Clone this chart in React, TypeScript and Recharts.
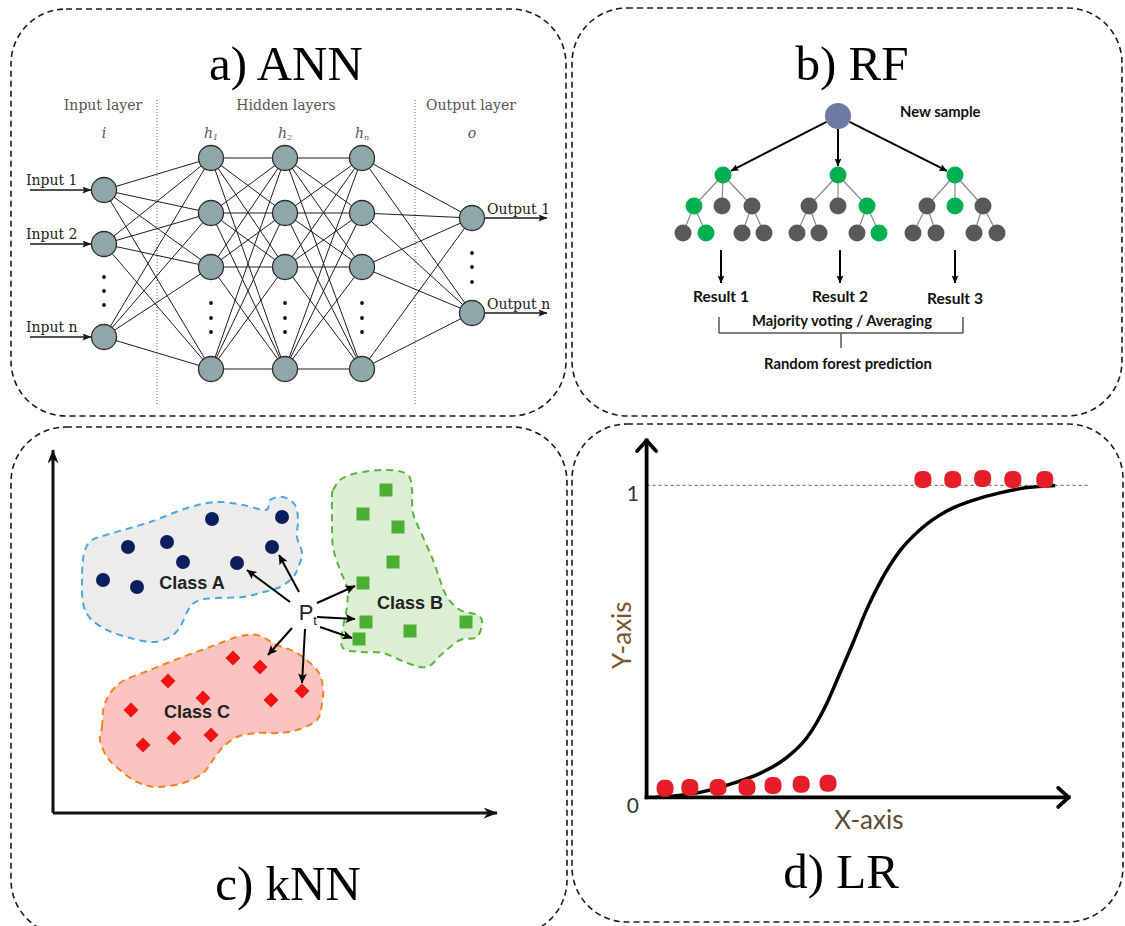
import React from 'react';
import { ComposedChart, Scatter, Line, XAxis, YAxis } from 'recharts';

// ================= a) ANN  (diagram units) =================
const annLayerX = [104, 211, 285, 362, 472]; // input, h1, h2, hn, output
const annLayerNodesY = [
  [190, 244, 337],
  [158, 213, 267, 369],
  [158, 213, 267, 369],
  [158, 213, 267, 369],
  [218, 313],
];
const annEllipsisY = [
  [277, 291, 305],
  [303, 318, 332],
  [303, 318, 332],
  [303, 318, 332],
  [253, 267, 282],
];
const annLayerTitles = [
  { x: 103, y: 105, t: 'Input layer' },
  { x: 286, y: 105, t: 'Hidden layers' },
  { x: 471, y: 105, t: 'Output layer' },
];
const annSymbols = [
  { x: 104, y: 133, t: 'i', sub: '' },
  { x: 211, y: 133, t: 'h', sub: '1' },
  { x: 285, y: 133, t: 'h', sub: '2' },
  { x: 362, y: 133, t: 'h', sub: 'n' },
  { x: 472, y: 133, t: 'o', sub: '' },
];
const annInputNames = ['Input 1', 'Input 2', 'Input n'];
const annOutputNames = ['Output 1', 'Output n'];
const annSeparatorX = [157, 415];
const annSeparatorSpan = [100, 405];
const annInputArrowX = [30, 91];
const annOutputArrowX = [485, 547];

// ================= b) RF =================
const rfRoot = { x: 838, y: 116 };
const rfLevel1 = [
  { x: 723, y: 175, on: true },
  { x: 838, y: 175, on: true },
  { x: 955, y: 175, on: true },
];
const rfLevel2X = [694, 722, 752, 809, 838, 867, 927, 955, 983];
const rfLevel2On = [true, false, false, false, false, true, false, true, false];
const rfLevel3X = [683, 706, 742, 764, 797, 819, 857, 879, 913, 936, 974, 997];
const rfLevel3On = [false, true, false, false, false, false, false, true, false, false, false, false];
const rfLevel2Y = 206;
const rfLevel3Y = 233;
const rfResultX = [721, 840, 955];
const rfResultLabels = ['Result 1', 'Result 2', 'Result 3'];
const rfResultLabelY = [296, 296, 298];
const rfResultArrowY = [250, 283];
const rfBracket = { left: 719, right: 963, top: 317, bottom: 333, stemX: 841, stemBottom: 348 };
const rfTexts = [
  { x: 842, y: 320, t: 'Majority voting / Averaging' },
  { x: 848, y: 363, t: 'Random forest prediction' },
];
const rfNewSample = [{ x: 900, y: 111, t: 'New sample' }];

// ================= c) kNN =================
const knnOrigin = { x: 53, y: 813 };
const knnAxisEnd = { x: 497, y: 450 };
const knnClassA = [
  { x: 103, y: 580 }, { x: 137, y: 587 }, { x: 128, y: 547 }, { x: 167, y: 542 }, { x: 183, y: 562 },
  { x: 212, y: 519 }, { x: 237, y: 563 }, { x: 272, y: 547 }, { x: 282, y: 517 },
];
const knnClassB = [
  { x: 386, y: 490 }, { x: 363, y: 514 }, { x: 398, y: 527 }, { x: 393, y: 562 }, { x: 363, y: 583 },
  { x: 366, y: 622 }, { x: 410, y: 631 }, { x: 466, y: 622 }, { x: 359, y: 639 },
];
const knnClassC = [
  { x: 233, y: 658 }, { x: 260, y: 667 }, { x: 168, y: 681 }, { x: 203, y: 698 }, { x: 131, y: 710 },
  { x: 271, y: 700 }, { x: 302, y: 691 }, { x: 143, y: 745 }, { x: 174, y: 738 }, { x: 211, y: 735 },
];
const knnBlobA = [
  [85, 550], [92, 540], [113, 533], [150, 522], [187, 508], [217, 502], [243, 505], [266, 510], [270, 500],
  [283, 497], [295, 505], [298, 520], [297, 537], [302, 553], [298, 568], [293, 577], [280, 587], [260, 593],
  [243, 597], [217, 598], [200, 600], [190, 607], [180, 627], [170, 637], [153, 642], [130, 638], [107, 630],
  [90, 618], [83, 603], [82, 580], [83, 560],
].map(([x, y]) => ({ x, y }));
const knnBlobB = [
  [333, 490], [343, 478], [363, 472], [390, 470], [408, 475], [412, 490], [413, 513], [423, 537], [433, 560],
  [440, 580], [447, 597], [460, 610], [477, 615], [482, 622], [477, 637], [460, 640], [443, 653], [427, 667],
  [407, 663], [383, 653], [360, 652], [343, 648], [342, 633], [347, 607], [347, 587], [340, 570], [333, 547],
  [332, 520], [332, 500],
].map(([x, y]) => ({ x, y }));
const knnBlobC = [
  [102, 727], [105, 703], [120, 683], [150, 670], [180, 658], [210, 647], [237, 637], [257, 635], [277, 645],
  [297, 653], [317, 670], [323, 687], [322, 703], [317, 720], [297, 730], [277, 733], [257, 733], [237, 737],
  [223, 747], [213, 760], [203, 773], [183, 783], [157, 787], [137, 782], [120, 770], [107, 757], [100, 740],
].map(([x, y]) => ({ x, y }));
const knnQueryArrows = [
  [290, 602, 247, 570], [299, 592, 279, 555],
  [317, 603, 355, 586], [317, 617, 355, 619], [320, 627, 352, 638],
  [292, 628, 268, 655], [305, 629, 302, 683],
];
const knnClassLabels = [
  { x: 192, y: 583, t: 'Class A' },
  { x: 410, y: 603, t: 'Class B' },
  { x: 197, y: 712, t: 'Class C' },
];
const knnQueryLabel = [{ x: 306, y: 612, t: 'P' }];
const knnQuerySub = [{ x: 315, y: 620, t: 't' }];

// ================= d) LR (value space) =================
const lrCurve = [
  { x: 0.2, y: 0.0 }, { x: 1.27, y: 0.016 }, { x: 2.05, y: 0.045 }, { x: 2.7, y: 0.077 },
  { x: 3.34, y: 0.128 }, { x: 3.82, y: 0.192 }, { x: 4.29, y: 0.301 }, { x: 4.6, y: 0.397 },
  { x: 4.91, y: 0.494 }, { x: 5.25, y: 0.605 }, { x: 5.56, y: 0.69 }, { x: 6.03, y: 0.79 },
  { x: 6.51, y: 0.858 }, { x: 7.15, y: 0.918 }, { x: 7.77, y: 0.952 }, { x: 8.41, y: 0.976 },
  { x: 9.06, y: 0.993 }, { x: 9.73, y: 1.0 },
];
const lrClass0 = [
  { x: 0.44, y: 0.029 }, { x: 1.03, y: 0.032 }, { x: 1.7, y: 0.032 }, { x: 2.39, y: 0.032 },
  { x: 3.01, y: 0.038 }, { x: 3.68, y: 0.042 }, { x: 4.32, y: 0.045 },
];
const lrClass1 = [
  { x: 6.58, y: 1.019 }, { x: 7.29, y: 1.019 }, { x: 8.0, y: 1.022 }, { x: 8.72, y: 1.019 }, { x: 9.48, y: 1.019 },
];
const lrTickLabels = [{ x: -0.33, y: 0, t: '0' }, { x: -0.33, y: 1, t: '1' }];
const lrXLabel = [{ x: 5.29, y: -0.07, t: 'X-axis' }];
const lrYLabel = [{ x: -0.6, y: 0.52, t: 'Y-axis' }];
const lrXDomain = [-1.8, 11.3];
const lrYDomain = [-0.4, 1.2];
const lrXEnd = 10.05;
const lrYEnd = 1.144;
const lrRefEnd = 10.53;

// ================= titles =================
const panelTitles = [
  { x: 286, y: 80, t: 'a) ANN' },
  { x: 852, y: 80, t: 'b) RF' },
  { x: 288, y: 900, t: 'c) kNN' },
  { x: 841, y: 888, t: 'd) LR' },
];

// ================= helpers =================
type P = { x: number; y: number };
const hidden = () => <g />;

function closedSmoothPath(pts: P[]) {
  const n = pts.length;
  let d = `M${pts[0].x},${pts[0].y}`;
  for (let i = 0; i < n; i++) {
    const p0 = pts[(i - 1 + n) % n], p1 = pts[i], p2 = pts[(i + 1) % n], p3 = pts[(i + 2) % n];
    const c1x = p1.x + (p2.x - p0.x) / 6, c1y = p1.y + (p2.y - p0.y) / 6;
    const c2x = p2.x - (p3.x - p1.x) / 6, c2y = p2.y - (p3.y - p1.y) / 6;
    d += ` C${c1x},${c1y} ${c2x},${c2y} ${p2.x},${p2.y}`;
  }
  return d + ' Z';
}

function segs(key: string, pairs: [P, P][], style: any) {
  const data = pairs.flatMap(([a, b]) => [a, b]);
  return (
    <Scatter
      key={key}
      data={data}
      shape={hidden}
      isAnimationActive={false}
      line={(p: any) => {
        const pts = p.points || [];
        const els: any[] = [];
        for (let i = 0; i + 1 < pts.length; i += 2) {
          els.push(<line key={i} x1={pts[i].x} y1={pts[i].y} x2={pts[i + 1].x} y2={pts[i + 1].y} {...style} />);
        }
        return <g>{els}</g>;
      }}
    />
  );
}

function texts(key: string, items: any[], style: any) {
  return (
    <Scatter
      key={key}
      data={items}
      isAnimationActive={false}
      shape={(p: any) => (
        <text x={p.cx} y={p.cy} dominantBaseline="central" {...style}>
          {p.payload.t}
        </text>
      )}
    />
  );
}

function blob(key: string, outline: P[], fill: string, stroke: string) {
  return (
    <Scatter
      key={key}
      data={outline}
      shape={hidden}
      isAnimationActive={false}
      line={(p: any) => (
        <path d={closedSmoothPath(p.points)} fill={fill} stroke={stroke} strokeWidth={2} strokeDasharray="7 5" />
      )}
    />
  );
}

// ---- derived ANN structures ----
const annNodes = annLayerX.flatMap((x, l) => annLayerNodesY[l].map((y) => ({ x, y })));
const annEdges: [P, P][] = [];
for (let l = 0; l < annLayerX.length - 1; l++) {
  for (const ya of annLayerNodesY[l]) {
    for (const yb of annLayerNodesY[l + 1]) {
      annEdges.push([{ x: annLayerX[l], y: ya }, { x: annLayerX[l + 1], y: yb }]);
    }
  }
}
const annDots = annLayerX.flatMap((x, l) => annEllipsisY[l].map((y) => ({ x, y })));
const annSeparators: [P, P][] = annSeparatorX.map((x) => [{ x, y: annSeparatorSpan[0] }, { x, y: annSeparatorSpan[1] }]);
const annInArrows: [P, P][] = annLayerNodesY[0].map((y) => [{ x: annInputArrowX[0], y }, { x: annInputArrowX[1], y }]);
const annOutArrows: [P, P][] = annLayerNodesY[4].map((y) => [{ x: annOutputArrowX[0], y }, { x: annOutputArrowX[1], y }]);
const annInLabels = annInputNames.map((t, i) => ({ x: 26, y: annLayerNodesY[0][i] - 10, t }));
const annOutLabels = annOutputNames.map((t, i) => ({ x: 487, y: annLayerNodesY[4][i] - 9, t }));

// ---- derived RF structures ----
const rfL2 = rfLevel2X.map((x, i) => ({ x, y: rfLevel2Y, on: rfLevel2On[i] }));
const rfL3 = rfLevel3X.map((x, i) => ({ x, y: rfLevel3Y, on: rfLevel3On[i] }));
const rfTreeEdges: [P, P][] = [];
rfLevel1.forEach((n, t) => {
  for (let k = 0; k < 3; k++) rfTreeEdges.push([n, rfL2[3 * t + k]]);
  rfTreeEdges.push([rfL2[3 * t], rfL3[4 * t]]);
  rfTreeEdges.push([rfL2[3 * t], rfL3[4 * t + 1]]);
  rfTreeEdges.push([rfL2[3 * t + 2], rfL3[4 * t + 2]]);
  rfTreeEdges.push([rfL2[3 * t + 2], rfL3[4 * t + 3]]);
});
const RF_ROOT_R = 13;
const RF_NODE_R = 8.5;
const rfRootArrows: [P, P][] = rfLevel1.map((n) => {
  const dx = n.x - rfRoot.x, dy = n.y - rfRoot.y;
  const len = Math.hypot(dx, dy);
  const ux = dx / len, uy = dy / len;
  return [
    { x: rfRoot.x + ux * RF_ROOT_R, y: rfRoot.y + uy * RF_ROOT_R },
    { x: n.x - ux * (RF_NODE_R + 0.5), y: n.y - uy * (RF_NODE_R + 0.5) },
  ];
});
const rfResultArrows: [P, P][] = rfResultX.map((x) => [{ x, y: rfResultArrowY[0] }, { x, y: rfResultArrowY[1] }]);
const rfResultTexts = rfResultX.map((x, i) => ({ x, y: rfResultLabelY[i], t: rfResultLabels[i] }));
const b = rfBracket;
const rfBracketSegs: [P, P][] = [
  [{ x: b.left, y: b.top }, { x: b.left, y: b.bottom }],
  [{ x: b.left, y: b.bottom }, { x: b.right, y: b.bottom }],
  [{ x: b.right, y: b.bottom }, { x: b.right, y: b.top }],
  [{ x: b.stemX, y: b.bottom }, { x: b.stemX, y: b.stemBottom }],
];

// ---- derived kNN ----
const knnAxes: [P, P][] = [
  [knnOrigin, { x: knnOrigin.x, y: knnAxisEnd.y }],
  [knnOrigin, { x: knnAxisEnd.x, y: knnOrigin.y }],
];
const knnArrows: [P, P][] = knnQueryArrows.map(([x1, y1, x2, y2]) => [{ x: x1, y: y1 }, { x: x2, y: y2 }]);

// ---- derived LR ----
const lrAxes: [P, P][] = [
  [{ x: 0, y: 0 }, { x: 0, y: lrYEnd }],
  [{ x: 0, y: 0 }, { x: lrXEnd, y: 0 }],
];
const lrRefLine: [P, P][] = [[{ x: 0, y: 1 }, { x: lrRefEnd, y: 1 }]];

// ================= styles =================
const SERIF = "'DejaVu Serif', serif";
const TITLE_FONT = "'Liberation Serif', 'Times New Roman', serif";
const CAL = "Lato, 'Open Sans', sans-serif";
const HELV = "'Liberation Sans', Arial, sans-serif";

const ANN_NODE = { fill: '#8fa7a9', stroke: '#2e2e2e', strokeWidth: 1.3 };
const RF_GREEN = '#00b050';
const RF_GRAY = '#595959';

// LR chart geometry (pixel placement of the plot)
const LR_PX_PER_X = 42;
const LR_PX_PER_Y = 312;
const LR_ORIGIN_PX = { x: 646.7, y: 797 };

export default function App() {
  const lrLeft = LR_ORIGIN_PX.x + lrXDomain[0] * LR_PX_PER_X;
  const lrTop = LR_ORIGIN_PX.y - lrYDomain[1] * LR_PX_PER_Y;
  const lrW = (lrXDomain[1] - lrXDomain[0]) * LR_PX_PER_X;
  const lrH = (lrYDomain[1] - lrYDomain[0]) * LR_PX_PER_Y;

  return (
    <div style={{ position: 'absolute', left: 0, top: 0, width: 1125, height: 926, background: '#fff', overflow: 'hidden' }}>
      <svg width={1125} height={926} style={{ position: 'absolute', left: 0, top: 0 }}>
        <defs>
          <marker id="annHead" viewBox="0 0 10 10" refX="9.5" refY="5" markerWidth="9" markerHeight="7" markerUnits="userSpaceOnUse" orient="auto" preserveAspectRatio="none">
            <path d="M0,0 L10,5 L0,10 L2,5 Z" fill="#1a1a1a" />
          </marker>
          <marker id="rfHead" viewBox="0 0 10 10" refX="9.5" refY="5" markerWidth="8" markerHeight="7" markerUnits="userSpaceOnUse" orient="auto" preserveAspectRatio="none">
            <path d="M0,0 L10,5 L0,10 L2,5 Z" fill="#000" />
          </marker>
          <marker id="knnHead" viewBox="0 0 10 10" refX="9.5" refY="5" markerWidth="10" markerHeight="9" markerUnits="userSpaceOnUse" orient="auto" preserveAspectRatio="none">
            <path d="M0,0 L10,5 L0,10 L2.5,5 Z" fill="#000" />
          </marker>
          <marker id="knnAxisHead" viewBox="0 0 10 10" refX="9.5" refY="5" markerWidth="14" markerHeight="11" markerUnits="userSpaceOnUse" orient="auto" preserveAspectRatio="none">
            <path d="M0,0 L10,5 L0,10 L3,5 Z" fill="#111" />
          </marker>
          <marker id="chev" viewBox="0 0 14 22" refX="12" refY="11" markerWidth="14" markerHeight="22" markerUnits="userSpaceOnUse" orient="auto" overflow="visible">
            <path d="M1.5,1.5 L12,11 L1.5,20.5" fill="none" stroke="#000" strokeWidth="3.8" strokeLinecap="round" strokeLinejoin="round" />
          </marker>
        </defs>
        <g fill="none" stroke="#1c1c1c" strokeWidth={1.6} strokeDasharray="6 4">
          <rect x={11} y={9} width={555} height={407} rx={55} ry={55} />
          <rect x={572} y={8} width={550} height={408} rx={55} ry={55} />
          <rect x={11} y={427} width={556} height={508} rx={55} ry={55} />
          <rect x={572} y={424} width={551} height={498} rx={55} ry={55} />
        </g>
        {panelTitles.map((p) => (
          <text key={p.t} x={p.x} y={p.y} textAnchor="middle" fontFamily={TITLE_FONT} fontSize={49} fill="#000">
            {p.t}
          </text>
        ))}
      </svg>

      {/* ===== diagram chart for panels a, b, c ===== */}
      <div style={{ position: 'absolute', left: 0, top: 0 }}>
        <ComposedChart width={1125} height={926} margin={{ top: 0, right: 0, bottom: 0, left: 0 }}>
          <XAxis type="number" dataKey="x" domain={[0, 1125]} hide allowDataOverflow />
          <YAxis type="number" dataKey="y" domain={[0, 926]} hide reversed allowDataOverflow />

          {/* ---- a) ANN ---- */}
          {segs('annSep', annSeparators, { stroke: '#666', strokeWidth: 1, strokeDasharray: '1 2' })}
          {segs('annEdges', annEdges, { stroke: '#1e1e1e', strokeWidth: 1 })}
          {segs('annIn', annInArrows, { stroke: '#1a1a1a', strokeWidth: 1.4, markerEnd: 'url(#annHead)' })}
          {segs('annOut', annOutArrows, { stroke: '#1a1a1a', strokeWidth: 1.4, markerEnd: 'url(#annHead)' })}
          <Scatter
            data={annNodes}
            isAnimationActive={false}
            shape={(p: any) => <circle cx={p.cx} cy={p.cy} r={12.5} {...ANN_NODE} />}
          />
          <Scatter
            data={annDots}
            isAnimationActive={false}
            shape={(p: any) => <circle cx={p.cx} cy={p.cy} r={1.9} fill="#111" />}
          />
          {texts('annTitles', annLayerTitles, { textAnchor: 'middle', fontFamily: SERIF, fontSize: 14, fill: '#555' })}
          <Scatter
            data={annSymbols}
            isAnimationActive={false}
            shape={(p: any) => (
              <text x={p.cx} y={p.cy} dominantBaseline="central" textAnchor="middle" fontFamily={SERIF} fontStyle="italic" fontSize={14} fill="#555">
                {p.payload.t}
                {p.payload.sub ? (
                  <tspan fontSize={8} dy={4}>
                    {p.payload.sub}
                  </tspan>
                ) : null}
              </text>
            )}
          />
          {texts('annInLbl', annInLabels, { textAnchor: 'start', fontFamily: SERIF, fontSize: 14, fill: '#222' })}
          {texts('annOutLbl', annOutLabels, { textAnchor: 'start', fontFamily: SERIF, fontSize: 14, fill: '#222' })}

          {/* ---- b) RF ---- */}
          {segs('rfTree', rfTreeEdges, { stroke: '#8a8a8a', strokeWidth: 1.2 })}
          {segs('rfRootArr', rfRootArrows, { stroke: '#000', strokeWidth: 2, markerEnd: 'url(#rfHead)' })}
          {segs('rfResArr', rfResultArrows, { stroke: '#000', strokeWidth: 2, markerEnd: 'url(#rfHead)' })}
          {segs('rfBracket', rfBracketSegs, { stroke: '#555', strokeWidth: 1.5 })}
          <Scatter
            data={[rfRoot]}
            isAnimationActive={false}
            shape={(p: any) => <circle cx={p.cx} cy={p.cy} r={RF_ROOT_R} fill="#6e7aa3" />}
          />
          <Scatter
            data={[...rfLevel1, ...rfL2, ...rfL3]}
            isAnimationActive={false}
            shape={(p: any) => <circle cx={p.cx} cy={p.cy} r={RF_NODE_R} fill={p.payload.on ? RF_GREEN : RF_GRAY} />}
          />
          {texts('rfNew', rfNewSample, { textAnchor: 'start', fontFamily: CAL, fontWeight: 700, fontSize: 14.8, fill: '#111' })}
          {texts('rfRes', rfResultTexts, { textAnchor: 'middle', fontFamily: CAL, fontWeight: 700, fontSize: 15.6, fill: '#111' })}
          {texts('rfTxt', rfTexts, { textAnchor: 'middle', fontFamily: CAL, fontWeight: 700, fontSize: 14.8, fill: '#111' })}

          {/* ---- c) kNN ---- */}
          {blob('blobA', knnBlobA, '#ececec', '#4ea6e0')}
          {blob('blobB', knnBlobB, '#dcefd4', '#5cb43e')}
          {blob('blobC', knnBlobC, '#fcc4c0', '#f5821f')}
          {segs('knnAxes', knnAxes, { stroke: '#111', strokeWidth: 3, markerEnd: 'url(#knnAxisHead)' })}
          <Scatter
            data={knnClassA}
            isAnimationActive={false}
            shape={(p: any) => <circle cx={p.cx} cy={p.cy} r={7} fill="#0b1f5e" />}
          />
          <Scatter
            data={knnClassB}
            isAnimationActive={false}
            shape={(p: any) => <rect x={p.cx - 6.5} y={p.cy - 6.5} width={13} height={13} fill="#4dae36" />}
          />
          <Scatter
            data={knnClassC}
            isAnimationActive={false}
            shape={(p: any) => (
              <path d={`M${p.cx},${p.cy - 7.5} L${p.cx + 7.5},${p.cy} L${p.cx},${p.cy + 7.5} L${p.cx - 7.5},${p.cy} Z`} fill="#f21212" />
            )}
          />
          {segs('knnArr', knnArrows, { stroke: '#000', strokeWidth: 2, markerEnd: 'url(#knnHead)' })}
          {texts('knnCls', knnClassLabels, { textAnchor: 'middle', fontFamily: HELV, fontWeight: 700, fontSize: 18, fill: '#222' })}
          {texts('knnP', knnQueryLabel, { textAnchor: 'middle', fontFamily: HELV, fontSize: 22, fill: '#222' })}
          {texts('knnPt', knnQuerySub, { textAnchor: 'middle', fontFamily: HELV, fontSize: 13, fill: '#222' })}
        </ComposedChart>
      </div>

      {/* ===== d) LR chart ===== */}
      <div style={{ position: 'absolute', left: lrLeft, top: lrTop }}>
        <ComposedChart width={lrW} height={lrH} margin={{ top: 0, right: 0, bottom: 0, left: 0 }}>
          <XAxis type="number" dataKey="x" domain={lrXDomain} hide allowDataOverflow />
          <YAxis type="number" dataKey="y" domain={lrYDomain} hide allowDataOverflow />
          {segs('lrRef', lrRefLine, { stroke: '#777', strokeWidth: 1.3, strokeDasharray: '3 3' })}
          {segs('lrAxes', lrAxes, { stroke: '#000', strokeWidth: 3.8, strokeLinecap: 'square', markerEnd: 'url(#chev)' })}
          <Line
            data={lrCurve}
            dataKey="y"
            type="monotone"
            stroke="#000"
            strokeWidth={3.5}
            dot={false}
            activeDot={false}
            isAnimationActive={false}
          />
          <Scatter
            data={[...lrClass0, ...lrClass1]}
            isAnimationActive={false}
            shape={(p: any) => <rect x={p.cx - 8.5} y={p.cy - 8.5} width={17} height={17} rx={7} ry={7} fill="#e61e2a" />}
          />
          {texts('lrTicks', lrTickLabels, { textAnchor: 'middle', fontFamily: CAL, fontSize: 21, fill: '#333', dy: 7 })}
          {texts('lrX', lrXLabel, { textAnchor: 'middle', fontFamily: CAL, fontSize: 26, fill: '#5f4b35' })}
          <Scatter
            data={lrYLabel}
            isAnimationActive={false}
            shape={(p: any) => (
              <text x={p.cx} y={p.cy} transform={`rotate(-90 ${p.cx} ${p.cy})`} dominantBaseline="central" textAnchor="middle" fontFamily={CAL} fontSize={26} fill="#7a5630">
                {p.payload.t}
              </text>
            )}
          />
        </ComposedChart>
      </div>
    </div>
  );
}
